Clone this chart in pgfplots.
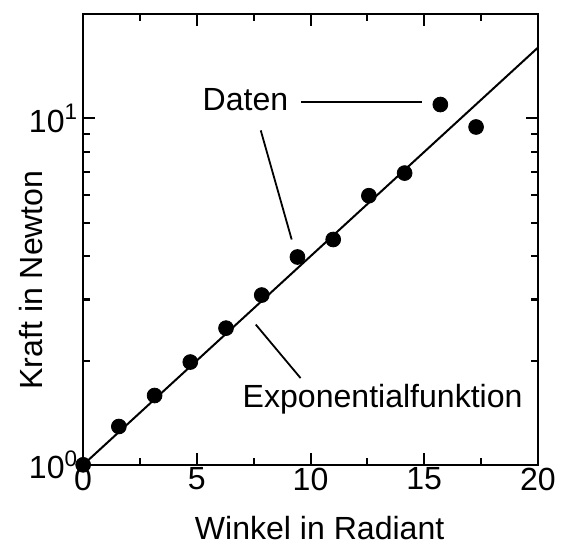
\documentclass[border=0pt]{standalone}
\usepackage{fontspec}
\setmainfont{Liberation Sans}
\usepackage{pgfplots}
\pgfplotsset{compat=1.18}
\newcommand{\lblfont}{\fontsize{16}{18}\selectfont}
\begin{document}
\begin{tikzpicture}
\begin{semilogyaxis}[
  width=227pt, height=225pt, scale only axis,
  xmin=0, xmax=20, ymin=1, ymax=20,
  xtick={0,5,10,15,20}, xticklabels={0,5,10,15,20},
  minor xtick={2.5,7.5,12.5,17.5},
  ytick={1,10}, yticklabels={10\textsuperscript{0},10\textsuperscript{1}},
  minor ytick={2,3,4,5,6,7,8,9},
  tick align=inside, major tick length=6pt, minor tick length=3.5pt,
  axis line style={line width=1.3pt},
  tick style={line width=1pt, black},
  tick label style={font=\lblfont},
  xticklabel style={yshift=2pt},
  yticklabel style={xshift=1pt},
  label style={font=\lblfont},
  xlabel={Winkel in Radiant}, ylabel={Kraft in Newton},
  xlabel style={at={(axis description cs:0.52,0)}, anchor=base, yshift=-37.5pt},
  ylabel style={at={(axis description cs:-0.115,0.41)}, anchor=center},
  clip=false,
]
% Exponentialfunktion
\addplot[black, line width=1pt] coordinates {(0,1) (20,16.0)};
% Daten
\addplot[only marks, mark=*, mark size=3.7pt, black] coordinates {
  (0,1) (1.5708,1.29) (3.1416,1.585) (4.7124,1.98) (6.2832,2.48)
  (7.854,3.09) (9.4248,3.98) (10.996,4.47) (12.566,5.98)
  (14.137,6.95) (15.708,10.96) (17.279,9.44)};
% Beschriftungen
\node[font=\lblfont] at (axis cs:7.14,11.35) {Daten};
\draw[line width=0.9pt] (axis cs:9.6,11.17) -- (axis cs:14.9,11.17);
\draw[line width=0.9pt] (axis cs:7.81,9.23) -- (axis cs:9.17,4.47);
\node[font=\lblfont] at (axis cs:13.17,1.55) {Exponentialfunktion};
\draw[line width=0.9pt] (axis cs:7.59,2.54) -- (axis cs:9.56,1.78);
% Rand wie im Original
\path (rel axis cs:0,1) ++(-41.5pt,7pt);
\path (rel axis cs:1,0) ++(13.5pt,0pt);
\end{semilogyaxis}
\end{tikzpicture}
\end{document}
